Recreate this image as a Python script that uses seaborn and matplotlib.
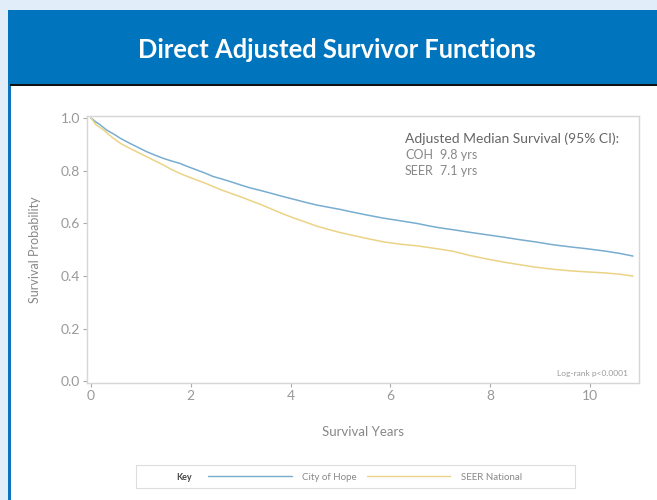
import pandas as pd
import matplotlib.pyplot as plt
import seaborn as sns
from matplotlib.patches import Rectangle
from matplotlib.lines import Line2D
from matplotlib.ticker import FormatStrFormatter

# ---------------------------
# Data (survival probability by year)
# ---------------------------
years_coh = [0, 0.1, 0.18, 0.31, 0.45, 0.6, 0.78, 0.95, 1.12, 1.3, 1.45, 1.6, 1.78, 1.95,
             2.12, 2.3, 2.45, 2.6, 2.79, 3.0, 3.19, 3.4, 3.6, 3.85, 4.1, 4.3, 4.52, 4.8,
             5.0, 5.19, 5.5, 5.86, 6.2, 6.53, 6.79, 7.0, 7.26, 7.6, 7.93, 8.3, 8.6, 8.9,
             9.26, 9.6, 9.93, 10.3, 10.6, 10.86]
surv_coh = [1.0, 0.985, 0.975, 0.955, 0.94, 0.922, 0.904, 0.888, 0.872, 0.858, 0.847, 0.838,
            0.828, 0.815, 0.803, 0.79, 0.778, 0.77, 0.759, 0.746, 0.735, 0.725, 0.715, 0.702,
            0.69, 0.68, 0.67, 0.66, 0.653, 0.645, 0.633, 0.62, 0.61, 0.60, 0.59, 0.583, 0.576,
            0.566, 0.557, 0.547, 0.538, 0.53, 0.519, 0.511, 0.504, 0.495, 0.486, 0.476]

years_seer = [0, 0.1, 0.25, 0.45, 0.6, 0.78, 0.95, 1.12, 1.3, 1.45, 1.6, 1.78, 1.95, 2.12,
              2.3, 2.45, 2.6, 2.79, 3.0, 3.19, 3.4, 3.6, 3.85, 4.1, 4.3, 4.52, 4.8, 5.0,
              5.19, 5.5, 5.86, 6.2, 6.53, 6.79, 7.0, 7.26, 7.6, 7.93, 8.3, 8.6, 8.9, 9.26,
              9.6, 9.93, 10.3, 10.6, 10.86]
surv_seer = [1.0, 0.975, 0.955, 0.923, 0.903, 0.885, 0.869, 0.853, 0.836, 0.822, 0.806, 0.79,
             0.777, 0.765, 0.752, 0.74, 0.728, 0.715, 0.701, 0.687, 0.672, 0.656, 0.636, 0.618,
             0.605, 0.59, 0.575, 0.565, 0.557, 0.544, 0.53, 0.521, 0.515, 0.508, 0.502, 0.494,
             0.478, 0.465, 0.452, 0.443, 0.434, 0.426, 0.42, 0.416, 0.412, 0.407, 0.40]

groups = ["City of Hope", "SEER National"]
colors = ["#78adcf", "#ebd386"]
y_ticks = [0.0, 0.2, 0.4, 0.6, 0.8, 1.0]
x_ticks = [0, 2, 4, 6, 8, 10]
median_labels = ["COH", "SEER"]
median_values = ["9.8 yrs", "7.1 yrs"]

df = pd.concat([
    pd.DataFrame({"years": years_coh, "surv": surv_coh, "group": groups[0]}),
    pd.DataFrame({"years": years_seer, "surv": surv_seer, "group": groups[1]}),
])

sns.set_theme(style="white")
plt.rcParams['font.family'] = ['Lato', 'DejaVu Sans']

fig = plt.figure(figsize=(6.57, 5), dpi=100)
fig.patch.set_facecolor('#e1eef9')

# page panel, header band and borders
fig.add_artist(Rectangle((10/657, 0), 1, 1 - 10/500, transform=fig.transFigure,
                         facecolor='white', edgecolor='none', zorder=0))
fig.add_artist(Rectangle((8/657, 0), 3/657, 1 - 10/500, transform=fig.transFigure,
                         facecolor='#0a74bf', edgecolor='none', zorder=1))
fig.add_artist(Rectangle((8/657, 1 - 84/500), 1, 74/500, transform=fig.transFigure,
                         facecolor='#0075be', edgecolor='none', zorder=1))
fig.add_artist(Rectangle((10/657, 1 - 86/500), 1, 2/500, transform=fig.transFigure,
                         facecolor='#111111', edgecolor='none', zorder=1))
fig.text(337/657, 1 - 50/500, "Direct Adjusted Survivor Functions", color='white',
         fontsize=18.4, fontweight='bold', ha='center', va='center')

# ---------------------------
# Survival curves
# ---------------------------
ax = fig.add_axes([87/657, 1 - 383/500, 552/657, 267/500])
sns.lineplot(data=df, x="years", y="surv", hue="group", palette=colors,
             linewidth=1.1, legend=False, ax=ax)

ax.set_xlim(-0.08, 10.98)
ax.set_ylim(-0.006, 1.008)
ax.set_xticks(x_ticks)
ax.set_yticks(y_ticks)
ax.yaxis.set_major_formatter(FormatStrFormatter('%.1f'))
ax.tick_params(bottom=True, left=True, direction='out', length=3, width=0.8,
               color='#aaaaaa', labelcolor='#999999', labelsize=10, pad=2)
for s in ax.spines.values():
    s.set_color('#d6d6d6')
    s.set_linewidth(1)
ax.set_xlabel("Survival Years", color='#888888', fontsize=9.5, labelpad=17)
ax.set_ylabel("Survival Probability", color='#888888', fontsize=9, labelpad=14)

ax.text(0.576, 0.914, "Adjusted Median Survival (95% CI):", transform=ax.transAxes,
        color='#666666', fontsize=10, va='center')
for i, (lab, val) in enumerate(zip(median_labels, median_values)):
    yy = 0.853 - i * 0.06
    ax.text(0.576, yy, lab, transform=ax.transAxes, color='#888888', fontsize=9, va='center')
    ax.text(0.64, yy, val, transform=ax.transAxes, color='#888888', fontsize=9, va='center')
ax.text(0.98, 0.034, "Log-rank p<0.0001", transform=ax.transAxes, color='#9a9a9a',
        fontsize=6, ha='right', va='center')

# ---------------------------
# Key box at the bottom
# ---------------------------
fig.add_artist(Rectangle((136/657, 1 - 488/500), 439/657, 23/500, transform=fig.transFigure,
                         facecolor='white', edgecolor='#dddddd', linewidth=0.8, zorder=2))
fig.text(176/657, 1 - 477/500, "Key", color='#444444', fontsize=6.5, fontweight='bold',
         va='center', zorder=3)
handles = [Line2D([], [], color=c, linewidth=1) for c in colors]
leg = fig.legend(handles, groups, ncol=2, loc='center left', frameon=False,
                 bbox_to_anchor=(208/657, 1 - 477/500), borderpad=0, borderaxespad=0,
                 handlelength=8.6, handletextpad=1.1, columnspacing=1.0,
                 fontsize=7, labelcolor='#888888')
leg.set_zorder(3)

fig.savefig("out.png", dpi=100)
